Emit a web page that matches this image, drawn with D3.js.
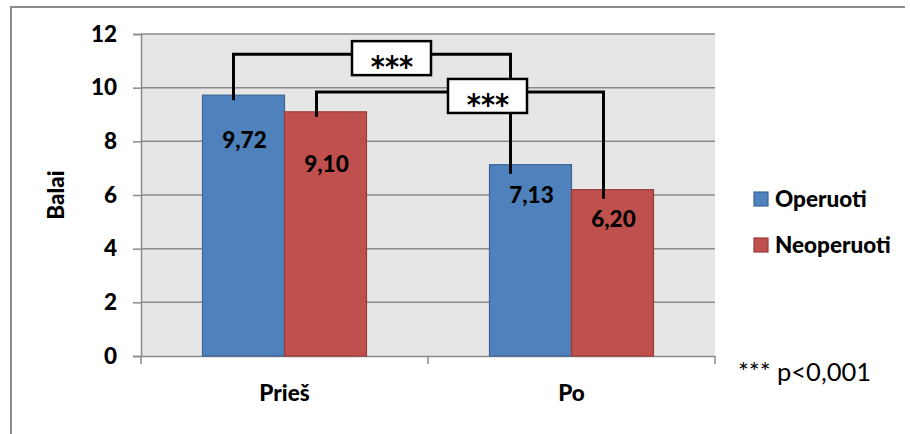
<!DOCTYPE html>
<html>
<head>
<meta charset="utf-8">
<script src="https://cdn.jsdelivr.net/npm/d3@7/dist/d3.min.js"></script>
<style>
  body { margin: 0; background: #fff; }
  svg { display: block; font-family: Lato, "Open Sans", sans-serif; }
</style>
</head>
<body>
<div id="chart"></div>
<script>
// chart data
var categories = ["Prieš", "Po"];
var seriesNames = ["Operuoti", "Neoperuoti"];
var seriesColors = ["#4F81BD", "#C0504D"];
var seriesStroke = ["#3A6595", "#983D3A"];
var operuoti = [9.72, 7.13];
var neoperuoti = [9.10, 6.20];
var yTicks = [0, 2, 4, 6, 8, 10, 12];
// significance brackets: [category, series] -> [category, series]
var brackets = [
    { from: [0, 0], to: [1, 0], level: 11.25, text: "***" },
    { from: [0, 1], to: [1, 1], level: 9.84, text: "***" }
];
var footnote = "*** p<0,001";

var width = 910, height = 434;
var plot = { left: 141, right: 715, top: 34, bottom: 356 };
var fs = 22.5;

var svg = d3.select("#chart").append("svg")
    .attr("width", width).attr("height", height);

// outer frame (left and top edges visible)
svg.append("path")
    .attr("d", "M11,434 L11,7 L905,7")
    .attr("fill", "none").attr("stroke", "#8c8c8c").attr("stroke-width", 2);

var x0 = d3.scaleBand().domain(categories).range([plot.left, plot.right]);
var x1 = d3.scaleBand().domain(seriesNames).range([0, x0.bandwidth()]).paddingOuter(0.75);
var y = d3.scaleLinear().domain([0, 12]).range([plot.bottom, plot.top]);

svg.append("rect")
    .attr("x", plot.left).attr("y", plot.top)
    .attr("width", plot.right - plot.left).attr("height", plot.bottom - plot.top)
    .attr("fill", "#E6E6E6");

// gridlines
svg.append("g").selectAll("line").data(yTicks.slice(1)).enter().append("line")
    .attr("x1", plot.left).attr("x2", plot.right)
    .attr("y1", function(d) { return y(d); }).attr("y2", function(d) { return y(d); })
    .attr("stroke", "#8a8a8a").attr("stroke-width", 1.5);

// y axis
var yAxis = svg.append("g").attr("transform", "translate(" + plot.left + ",0)")
    .call(d3.axisLeft(y).tickValues(yTicks).tickSize(8).tickPadding(16).tickFormat(d3.format("d")));
yAxis.select(".domain").attr("stroke", "#8a8a8a").attr("stroke-width", 1.5);
yAxis.selectAll(".tick line").attr("stroke", "#8a8a8a").attr("stroke-width", 1.5);
yAxis.selectAll(".tick text").attr("font-size", fs).attr("font-weight", "900")
    .attr("fill", "#000").attr("font-family", "Lato");

// x axis
var xAxis = svg.append("g").attr("transform", "translate(0," + plot.bottom + ")")
    .call(d3.axisBottom(x0).tickSize(0).tickPadding(29));
xAxis.select(".domain").attr("stroke", "#8a8a8a").attr("stroke-width", 1.5);
xAxis.selectAll(".tick text").attr("font-size", fs).attr("font-weight", "900")
    .attr("fill", "#000").attr("font-family", "Lato");
var edges = [plot.left].concat(categories.map(function(c) { return x0(c) + x0.bandwidth(); }));
svg.append("g").selectAll("line").data(edges).enter().append("line")
    .attr("x1", function(d) { return d; }).attr("x2", function(d) { return d; })
    .attr("y1", plot.bottom).attr("y2", plot.bottom + 8)
    .attr("stroke", "#8a8a8a").attr("stroke-width", 1.5);

// y title
svg.append("text")
    .attr("transform", "translate(64,195) rotate(-90)")
    .attr("text-anchor", "middle")
    .attr("font-size", fs).attr("font-weight", "900")
    .text("Balai");

// bars
var values = [operuoti, neoperuoti];
var bars = [];
categories.forEach(function(c, ci) {
    seriesNames.forEach(function(s, si) {
        bars.push({ cat: c, ci: ci, series: s, si: si, value: values[si][ci] });
    });
});

svg.append("g").selectAll("rect").data(bars).enter().append("rect")
    .attr("x", function(d) { return x0(d.cat) + x1(d.series); })
    .attr("y", function(d) { return y(d.value); })
    .attr("width", x1.bandwidth())
    .attr("height", function(d) { return y(0) - y(d.value); })
    .attr("fill", function(d) { return seriesColors[d.si]; })
    .attr("stroke", function(d) { return seriesStroke[d.si]; })
    .attr("stroke-width", 1.2);

// value labels (moved by hand in the original)
var labelDy = [53, 60, 38, 37];
svg.append("g").selectAll("text").data(bars).enter().append("text")
    .attr("x", function(d) { return x0(d.cat) + x1(d.series) + x1.bandwidth() / 2 + 1; })
    .attr("y", function(d, i) { return y(d.value) + labelDy[i]; })
    .attr("text-anchor", "middle")
    .attr("font-size", fs).attr("font-weight", "900")
    .text(function(d) { return d3.format(".2f")(d.value).replace(".", ","); });

// brackets
function barX(ref, off) {
    return x0(categories[ref[0]]) + x1(seriesNames[ref[1]]) + x1.bandwidth() / 2 + off;
}
function barTop(ref) {
    return y(values[ref[1]][ref[0]]);
}
var ends = [[-10, -20], [-9, -9]];
var bg = svg.append("g");
brackets.forEach(function(b, i) {
    var xa = barX(b.from, ends[i][0]), xb = barX(b.to, ends[i][1]), yl = y(b.level);
    bg.append("path")
        .attr("d", "M" + xa + "," + (barTop(b.from) + 5) + " L" + xa + "," + yl +
                   " L" + xb + "," + yl + " L" + xb + "," + (barTop(b.to) + 9))
        .attr("fill", "none").attr("stroke", "#000").attr("stroke-width", 3);
});
brackets.forEach(function(b, i) {
    var xa = barX(b.from, ends[i][0]), xb = barX(b.to, ends[i][1]), yl = y(b.level);
    var cx = (xa + xb) / 2 + 19 + i * 8;
    bg.append("rect")
        .attr("x", cx - 39).attr("y", yl - 13).attr("width", 79).attr("height", 34)
        .attr("fill", "#fff").attr("stroke", "#000").attr("stroke-width", 2.5);
    bg.append("text")
        .attr("x", cx + 1).attr("y", yl + 23)
        .attr("text-anchor", "middle")
        .attr("font-size", 30).attr("font-weight", "900").attr("letter-spacing", 0)
        .attr("font-family", "DejaVu Sans")
        .attr("transform", "translate(" + (cx + 1) + "," + (yl + 23) + ") scale(0.9,1) translate(" + -(cx + 1) + "," + -(yl + 23) + ")")
        .text(b.text);
});

// legend
var legend = svg.append("g").selectAll("g").data(seriesNames).enter().append("g")
    .attr("transform", function(d, i) { return "translate(754," + (192 + i * 46) + ")"; });
legend.append("rect")
    .attr("width", 14).attr("height", 14)
    .attr("fill", function(d, i) { return seriesColors[i]; })
    .attr("stroke", function(d, i) { return seriesStroke[i]; })
    .attr("stroke-width", 1.2);
legend.append("text")
    .attr("x", 21).attr("y", 7).attr("dy", "0.36em")
    .attr("font-size", fs).attr("font-weight", "900")
    .text(function(d) { return d; });

// footnote
svg.append("text")
    .attr("x", 738).attr("y", 381)
    .attr("font-size", 25.5)
    .text(footnote);
</script>
</body>
</html>
